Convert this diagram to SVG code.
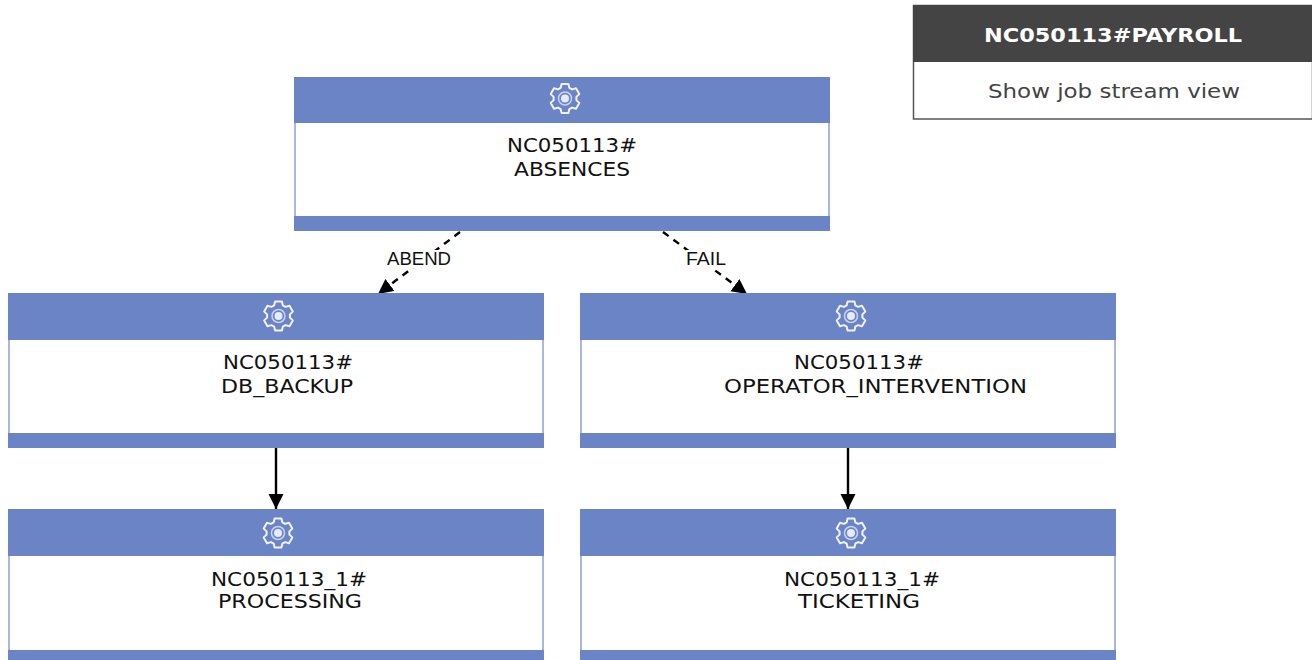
<svg xmlns="http://www.w3.org/2000/svg" width="1312" height="660" viewBox="0 0 1312 660">
<style>
.band{fill:#6b84c6}
.body{fill:#fff;stroke:#a9b8e0;stroke-width:2}
.gear{fill:none;stroke:#fff;stroke-width:2;stroke-linejoin:round;opacity:.9}
.ring{fill:none;stroke:#c9d3ee;stroke-width:1.5}
.hub{fill:#e6ebf8}
.t{font-family:"DejaVu Sans",sans-serif;font-size:19px;fill:#111;text-anchor:middle}
.lbl{font-family:"Liberation Sans",Arial,sans-serif;font-size:18px;fill:#111;text-anchor:middle}
.c{fill:none;stroke:#000;stroke-width:2.4}
.d{stroke-dasharray:7 6}
.p{font-family:"DejaVu Sans",sans-serif;font-size:20px;text-anchor:middle}
</style>
<defs>
<marker id="a" markerUnits="userSpaceOnUse" markerWidth="16" markerHeight="16" refX="15" refY="7.500" orient="auto"><path d="M0 0L15 7.500L0 15Z" fill="#000"/></marker>
<g id="g"><path class="gear" d="M-3.4-14.6L3.4-14.6L4.3-10.7L7.1-9.1L11-10.2L14.3-4.4L11.4-1.6L11.4 1.6L14.3 4.4L11 10.2L7.1 9.1L4.3 10.7L3.4 14.6L-3.4 14.6L-4.3 10.7L-7.1 9.1L-11 10.2L-14.3 4.4L-11.4 1.6L-11.4-1.6L-14.3-4.4L-11-10.2L-7.1-9.1L-4.3-10.7Z"/><circle class="ring" r="6.500"/><circle class="hub" r="4"/></g>
</defs>
<rect width="1312" height="660" fill="#fff"/>
<g id="connectors">
<path class="c d" d="M460 232L378 294" marker-end="url(#a)"/>
<path class="c d" d="M663 232L747 294" marker-end="url(#a)"/>
<path class="c" d="M276 447V509" marker-end="url(#a)"/>
<path class="c" d="M848 447V509" marker-end="url(#a)"/>
<rect x="387" y="250" width="64" height="18" fill="#fff"/>
<rect x="686" y="250" width="40" height="18" fill="#fff"/>
<text class="lbl" x="419" y="265" textLength="64" lengthAdjust="spacingAndGlyphs">ABEND</text>
<text class="lbl" x="706" y="265" textLength="40" lengthAdjust="spacingAndGlyphs">FAIL</text>
</g>
<g id="node-absences">
<rect class="body" x="295" y="78" width="534" height="152"/>
<rect class="band" x="294" y="77" width="536" height="46"/>
<rect class="band" x="294" y="216" width="536" height="15"/>
<use href="#g" x="565" y="98.500"/>
<text class="t" x="572" y="152" textLength="130" lengthAdjust="spacingAndGlyphs">NC050113#</text>
<text class="t" x="572" y="176" textLength="116" lengthAdjust="spacingAndGlyphs">ABSENCES</text>
</g>
<g id="node-db-backup">
<rect class="body" x="9" y="294" width="534" height="152"/>
<rect class="band" x="8" y="293" width="536" height="47"/>
<rect class="band" x="8" y="433" width="536" height="15"/>
<use href="#g" x="278.500" y="316"/>
<text class="t" x="288" y="369" textLength="130" lengthAdjust="spacingAndGlyphs">NC050113#</text>
<text class="t" x="287" y="393" textLength="132" lengthAdjust="spacingAndGlyphs">DB_BACKUP</text>
</g>
<g id="node-operator">
<rect class="body" x="581" y="294" width="534" height="152"/>
<rect class="band" x="580" y="293" width="536" height="47"/>
<rect class="band" x="580" y="433" width="536" height="15"/>
<use href="#g" x="851" y="316"/>
<text class="t" x="859" y="369" textLength="130" lengthAdjust="spacingAndGlyphs">NC050113#</text>
<text class="t" x="875.500" y="393" textLength="303" lengthAdjust="spacingAndGlyphs">OPERATOR_INTERVENTION</text>
</g>
<g id="node-processing">
<rect class="body" x="9" y="510" width="534" height="160"/>
<rect class="band" x="8" y="509" width="536" height="47"/>
<rect class="band" x="8" y="650" width="536" height="10"/>
<use href="#g" x="278" y="533"/>
<text class="t" x="289" y="586" textLength="156" lengthAdjust="spacingAndGlyphs">NC050113_1#</text>
<text class="t" x="290" y="608" textLength="144" lengthAdjust="spacingAndGlyphs">PROCESSING</text>
</g>
<g id="node-ticketing">
<rect class="body" x="581" y="510" width="534" height="160"/>
<rect class="band" x="580" y="509" width="536" height="47"/>
<rect class="band" x="580" y="650" width="536" height="10"/>
<use href="#g" x="851" y="533"/>
<text class="t" x="862" y="586" textLength="156" lengthAdjust="spacingAndGlyphs">NC050113_1#</text>
<text class="t" x="859" y="608" textLength="122" lengthAdjust="spacingAndGlyphs">TICKETING</text>
</g>
<g id="panel">
<rect x="913.500" y="5.500" width="399" height="113.500" fill="#fff" stroke="#555" stroke-width="1.500"/>
<rect x="913" y="5" width="399" height="57" fill="#444"/>
<text class="p" x="1113" y="42" font-weight="700" fill="#fff" textLength="258" lengthAdjust="spacingAndGlyphs">NC050113#PAYROLL</text>
<text class="p" x="1114" y="98" fill="#444" textLength="252" lengthAdjust="spacingAndGlyphs">Show job stream view</text>
</g>
</svg>
